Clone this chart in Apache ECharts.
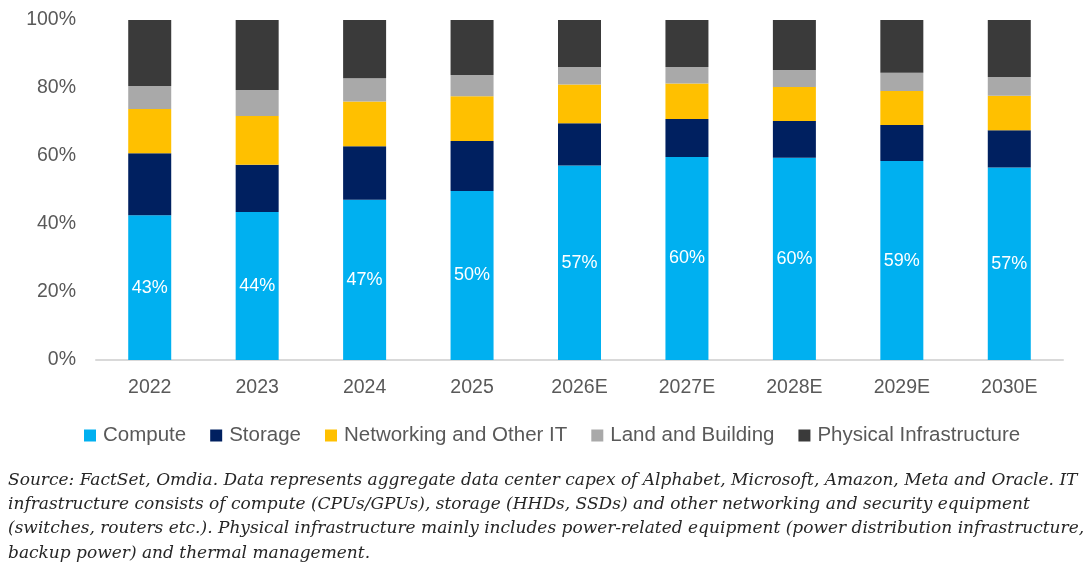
<!DOCTYPE html>
<html>
<head>
<meta charset="utf-8">
<script src="https://cdn.jsdelivr.net/npm/echarts@6/dist/echarts.min.js"></script>
<style>
  html, body { margin: 0; padding: 0; background: #fff; }
  #chart { width: 1089px; height: 563px; }
</style>
</head>
<body>
<div id="chart"></div>
<script>
// 年份
const years = ["2022", "2023", "2024", "2025", "2026E", "2027E", "2028E", "2029E", "2030E"];
// 各类占比 (%)
const compute = [42.6, 43.5, 47.1, 49.7, 57.2, 59.7, 59.5, 58.5, 56.6];
const storage = [18.2, 13.9, 15.8, 14.7, 12.4, 11.2, 10.8, 10.6, 11.0];
const networking = [13.0, 14.4, 13.1, 13.2, 11.4, 10.4, 10.0, 10.0, 10.1];
const landBuilding = [6.8, 7.6, 6.9, 6.2, 5.2, 4.9, 5.0, 5.4, 5.5];
const physical = [19.4, 20.6, 17.1, 16.2, 13.8, 13.8, 14.7, 15.5, 16.8];
const yTicks = [0, 20, 40, 60, 80, 100];

const footnote = [
  "Source: FactSet, Omdia. Data represents aggregate data center capex of Alphabet, Microsoft, Amazon, Meta and Oracle. IT",
  "infrastructure consists of compute (CPUs/GPUs), storage (HHDs, SSDs) and other networking and security equipment",
  "(switches, routers etc.). Physical infrastructure mainly includes power-related equipment (power distribution infrastructure,",
  "backup power) and thermal management."
];

let myChart = echarts.init(document.getElementById("chart"));

// 堆叠柱子
function makeSeries(name, data, color, showLabel) {
  return {
    name: name,
    type: "bar",
    stack: "total",
    barWidth: 43,
    data: data,
    itemStyle: { color: color },
    label: {
      show: showLabel,
      position: "inside",
      color: "#fff",
      fontSize: 18,
      fontFamily: "Liberation Sans",
      formatter: p => Math.round(p.value) + "%"
    }
  };
}

let option = {
  animation: false,
  textStyle: { fontFamily: "Liberation Sans" },
  grid: { left: 96, right: 26, top: 20, bottom: 203 },
  legend: {
    bottom: 112,
    left: 79,
    itemWidth: 12,
    itemHeight: 12,
    itemGap: 24,
    icon: "rect",
    textStyle: { color: "#595959", fontSize: 20.5, padding: [0, 0, 0, 2] },
    data: ["Compute", "Storage", "Networking and Other IT", "Land and Building", "Physical Infrastructure"]
  },
  xAxis: {
    type: "category",
    data: years,
    axisLine: { lineStyle: { color: "#d9d9d9", width: 2 } },
    axisTick: { show: false },
    axisLabel: { color: "#595959", fontSize: 19.5, margin: 18 }
  },
  yAxis: {
    type: "value",
    min: yTicks[0],
    max: yTicks[yTicks.length - 1],
    interval: yTicks[1] - yTicks[0],
    splitLine: { show: false },
    axisLine: { show: false },
    axisTick: { show: false },
    axisLabel: { color: "#595959", fontSize: 19.5, margin: 20, formatter: "{value}%" }
  },
  graphic: [
    {
      type: "text",
      left: 8,
      top: 468,
      style: {
        text: footnote.join("\n"),
        fill: "#262626",
        font: "italic 17px 'DejaVu Serif'",
        lineHeight: 24.4
      }
    }
  ],
  series: [
    makeSeries("Compute", compute, "#00b0f0", true),
    makeSeries("Storage", storage, "#002060", false),
    makeSeries("Networking and Other IT", networking, "#ffc000", false),
    makeSeries("Land and Building", landBuilding, "#a9a9a9", false),
    makeSeries("Physical Infrastructure", physical, "#3a3a3a", false)
  ]
};

myChart.setOption(option);
</script>
</body>
</html>
